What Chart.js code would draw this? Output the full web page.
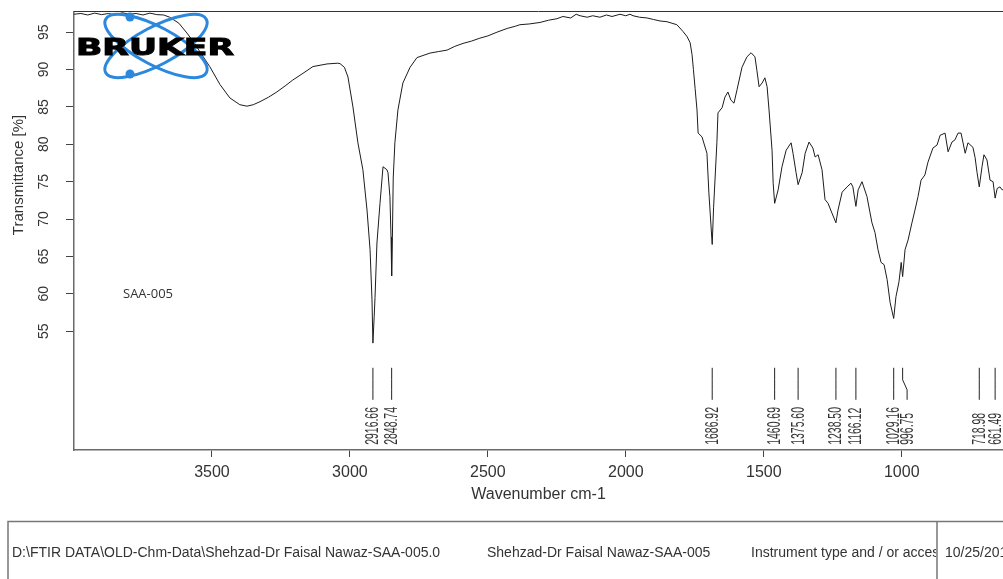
<!DOCTYPE html>
<html>
<head>
<meta charset="utf-8">
<script src="https://cdn.jsdelivr.net/npm/chart.js"></script>
<style>
  html, body { margin: 0; padding: 0; background: #fff; }
  canvas { display: block; }
</style>
</head>
<body>
<canvas id="spectrum" width="1003" height="579"></canvas>
<script>
  // spectrum: wavenumber (cm-1) / transmittance (%)
  const wavenumbers = [
    4000, 3975, 3950, 3925, 3900, 3875, 3850, 3825, 3800, 3775, 3750, 3725, 3700, 3675, 3653, 3620,
    3591, 3565, 3544, 3508, 3471, 3435, 3399, 3373, 3350, 3326, 3295, 3265, 3235, 3207, 3170, 3134,
    3083, 3044, 3036, 3020, 3007, 2989, 2971, 2953, 2938, 2927, 2920, 2916.66, 2912, 2909, 2902, 2891,
    2880, 2866, 2862, 2855, 2851, 2848.74, 2846, 2843, 2837, 2826, 2808, 2782, 2757, 2710, 2680, 2648,
    2620, 2590, 2560, 2529, 2500, 2467, 2430, 2400, 2384, 2350, 2311, 2280, 2250, 2228, 2200, 2180,
    2166, 2140, 2120, 2094, 2070, 2050, 2021, 2000, 1985, 1974, 1950, 1923, 1900, 1876, 1851, 1815,
    1793, 1778, 1767, 1760, 1755, 1749, 1742, 1738, 1724, 1706, 1699, 1686.92, 1682, 1670, 1666, 1651,
    1641, 1630, 1619, 1608, 1597, 1579, 1561, 1546, 1532, 1525, 1517, 1506, 1496, 1488, 1481, 1470,
    1466, 1460.69, 1448, 1434, 1419, 1401, 1394, 1383, 1375.6, 1361, 1350, 1336, 1322, 1314, 1303, 1289,
    1278, 1267, 1253, 1238.5, 1231, 1216, 1198, 1184, 1177, 1166.12, 1158, 1144, 1126, 1108, 1097, 1086,
    1075, 1064, 1053, 1042, 1029.16, 1021, 1010, 1002, 996.75, 988, 977, 963, 952, 941, 930, 916,
    905, 887, 872, 861, 843, 832, 818, 807, 796, 785, 770, 760, 742, 734, 727, 718.98,
    709, 702, 691, 680, 669, 661.49, 654, 644, 636, 630
  ];
  const transmittance = [
    97.4, 97.5, 97.3, 97.55, 97.35, 97.5, 97.3, 97.6, 97.4, 97.5, 97.3, 97.55, 97.35, 97.3, 97.0, 96.2,
    94.9, 93.6, 92.4, 90.4, 88.0, 86.2, 85.3, 85.1, 85.3, 85.7, 86.3, 87.0, 87.8, 88.6, 89.5, 90.4,
    90.75, 90.85, 90.8, 90.3, 89.0, 85.0, 80.2, 76.6, 71.2, 65.9, 59.2, 53.4, 57.0, 59.5, 66.8, 72.1,
    77.0, 76.6, 76.2, 73.0, 67.6, 62.4, 67.5, 75.5, 80.2, 84.6, 88.2, 90.3, 91.6, 92.2, 92.4, 92.6,
    93.1, 93.5, 93.8, 94.2, 94.5, 95.0, 95.5, 95.8, 96.0, 96.1, 96.3, 96.6, 96.8, 97.1, 96.9, 97.4,
    97.2, 97.0, 97.2, 97.0, 97.3, 97.1, 97.4, 97.2, 97.4, 97.2, 97.0, 96.9, 96.7, 96.5, 96.4, 96.0,
    95.1, 94.4, 93.6, 92.0, 90.0, 87.5, 84.6, 81.5, 81.0, 78.8, 73.5, 66.6, 71.5, 80.2, 84.2, 84.9,
    86.3, 87.0, 85.9, 85.5, 87.3, 90.3, 91.7, 92.25, 91.7, 89.9, 87.7, 88.2, 88.9, 87.7, 84.6, 79.2,
    74.8, 72.1, 73.9, 77.0, 79.2, 80.2, 78.8, 76.2, 74.6, 76.2, 78.8, 80.3, 79.5, 78.3, 78.6, 76.6,
    72.6, 72.1, 70.8, 69.5, 71.2, 73.6, 74.3, 74.8, 74.3, 71.7, 73.9, 75.0, 73.0, 69.5, 68.2, 65.9,
    64.2, 63.9, 61.9, 58.8, 56.7, 59.6, 61.6, 64.2, 62.3, 65.9, 67.2, 69.5, 71.2, 73.0, 75.2, 75.9,
    77.6, 79.5, 79.9, 81.2, 81.5, 79.0, 80.3, 80.6, 81.5, 81.5, 78.8, 80.2, 79.6, 78.2, 76.2, 74.3,
    77.0, 78.6, 77.9, 75.2, 75.0, 72.8, 74.1, 74.3, 73.9, 74.0
  ];
  const peakLabels = [2916.66, 2848.74, 1686.92, 1460.69, 1375.60, 1238.50, 1166.12, 1029.16, 996.75, 718.98, 661.49];
  const xTicks = [3500, 3000, 2500, 2000, 1500, 1000];
  const yTicks = [55, 60, 65, 70, 75, 80, 85, 90, 95];
  const footerTexts = [
    'D:\\FTIR DATA\\OLD-Chm-Data\\Shehzad-Dr Faisal Nawaz-SAA-005.0',
    'Shehzad-Dr Faisal Nawaz-SAA-005',
    'Instrument type and / or accessory',
    '10/25/201'
  ];

  const FONT = '"Liberation Sans", Arial, sans-serif';

  // box, peak picks, footer, sample name, y title
  const decorations = {
    id: 'decorations',
    afterDatasetsDraw(chart) {
      const ctx = chart.ctx;
      // Bruker logo
      ctx.save();
      ctx.strokeStyle = '#2b88dd';
      ctx.lineWidth = 3;
      [0.49, -0.49].forEach(rot => {
        ctx.beginPath();
        ctx.ellipse(156, 46, 57, 19, rot, 0, Math.PI * 2);
        ctx.stroke();
      });
      ctx.fillStyle = '#2b88dd';
      [[130, 17], [130, 74]].forEach(([x, y]) => {
        ctx.beginPath();
        ctx.arc(x, y, 4.5, 0, Math.PI * 2);
        ctx.fill();
      });
      ctx.font = 'bold 23px "DejaVu Sans", sans-serif';
      const w = ctx.measureText('BRUKER').width;
      ctx.translate(76, 55);
      ctx.scale(158 / w, 1);
      ctx.fillStyle = '#000';
      ctx.strokeStyle = '#000';
      ctx.lineWidth = 1;
      ctx.fillText('BRUKER', 0, 0);
      ctx.strokeText('BRUKER', 0, 0);
      ctx.restore();
    },
    afterDraw(chart) {
      const ctx = chart.ctx;
      const area = chart.chartArea;
      const xs = chart.scales.x;
      const ys = chart.scales.y;

      ctx.save();
      // top frame line
      ctx.strokeStyle = '#333';
      ctx.lineWidth = 1;
      ctx.beginPath();
      ctx.moveTo(area.left, area.top - 0.5);
      ctx.lineTo(area.right, area.top - 0.5);
      ctx.stroke();

      // peak picks
      const yTop = ys.getPixelForValue(50.1);
      let prev = -Infinity;
      ctx.strokeStyle = '#222';
      ctx.fillStyle = '#333';
      ctx.lineWidth = 1;
      peakLabels.forEach(p => {
        const x0 = xs.getPixelForValue(p);
        let lx = x0;
        if (lx < prev + 13.4) lx = prev + 13.4;
        prev = lx;
        ctx.beginPath();
        ctx.moveTo(x0, yTop);
        ctx.lineTo(x0, yTop + 12);
        ctx.lineTo(lx, yTop + 22);
        ctx.lineTo(lx, yTop + 32);
        ctx.stroke();
        ctx.save();
        ctx.translate(lx, yTop + 77);
        ctx.rotate(-Math.PI / 2);
        ctx.scale(0.58, 1);
        ctx.font = '18px ' + FONT;
        ctx.textAlign = 'left';
        ctx.textBaseline = 'middle';
        ctx.fillText(p.toFixed(2), 0, 0.5);
        ctx.restore();
      });

      // sample name
      ctx.font = '13px "Open Sans", sans-serif';
      ctx.fillStyle = '#333';
      ctx.textBaseline = 'middle';
      ctx.textAlign = 'left';
      ctx.fillText('SAA-005', 123, 294);

      // y axis title
      ctx.save();
      ctx.translate(19, 175);
      ctx.rotate(-Math.PI / 2);
      ctx.font = '15px ' + FONT;
      ctx.textAlign = 'center';
      ctx.fillText('Transmittance [%]', 0, 0);
      ctx.restore();

      // footer box
      ctx.strokeStyle = '#777';
      ctx.lineWidth = 1.5;
      ctx.beginPath();
      ctx.moveTo(8, chart.height);
      ctx.lineTo(8, 521.5);
      ctx.lineTo(chart.width, 521.5);
      ctx.moveTo(937, 521.5);
      ctx.lineTo(937, chart.height);
      ctx.stroke();

      ctx.font = '14px ' + FONT;
      ctx.fillStyle = '#333';
      ctx.fillText(footerTexts[0], 12, 553);
      ctx.fillText(footerTexts[1], 487, 553);
      ctx.save();
      ctx.beginPath();
      ctx.rect(700, 522, 236, 60);
      ctx.clip();
      ctx.fillText(footerTexts[2], 751, 553);
      ctx.restore();
      ctx.fillText(footerTexts[3], 945, 553);
      ctx.restore();
    }
  };

  const config = {
    type: 'line',
    data: {
      datasets: [{
        data: wavenumbers.map((w, i) => ({ x: w, y: transmittance[i] })),
        borderColor: '#1c1c1c',
        borderWidth: 1,
        pointRadius: 0,
        tension: 0,
        fill: false
      }]
    },
    options: {
      responsive: false,
      animation: false,
      events: [],
      layout: { padding: { top: 12, right: 0, left: 0, bottom: 0 } },
      plugins: { legend: { display: false }, tooltip: { enabled: false } },
      scales: {
        x: {
          type: 'linear',
          reverse: true,
          min: 633,
          max: 4000,
          afterBuildTicks: (scale) => { scale.ticks = xTicks.map(v => ({ value: v })); },
          afterFit: (scale) => { scale.height = 129; scale.paddingLeft = 0; scale.paddingRight = 0; },
          grid: { drawOnChartArea: false, drawTicks: true, tickLength: 7, tickColor: '#444' },
          border: { display: true, color: '#6a6a6a', width: 1.5 },
          ticks: {
            autoSkip: false, maxRotation: 0, minRotation: 0, padding: 6,
            color: '#333', font: { family: FONT, size: 16 },
            callback: (v) => String(v)
          },
          title: {
            display: true, text: 'Wavenumber cm-1', color: '#333',
            font: { family: FONT, size: 16 }, padding: { top: 0, bottom: 75 }
          }
        },
        y: {
          type: 'linear',
          min: 39.1,
          max: 97.7,
          afterBuildTicks: (scale) => { scale.ticks = yTicks.map(v => ({ value: v })); },
          afterFit: (scale) => { scale.width = 74; scale.paddingTop = 0; scale.paddingBottom = 0; },
          grid: { drawOnChartArea: false, drawTicks: true, tickLength: 8, tickColor: '#444' },
          border: { display: true, color: '#6a6a6a', width: 1.5 },
          ticks: {
            minRotation: 90, maxRotation: 90, crossAlign: 'center', padding: 14,
            color: '#333', font: { family: FONT, size: 14 },
            callback: (v) => String(v)
          }
        }
      }
    },
    plugins: [decorations]
  };

  new Chart(document.getElementById('spectrum'), config);
</script>
</body>
</html>
